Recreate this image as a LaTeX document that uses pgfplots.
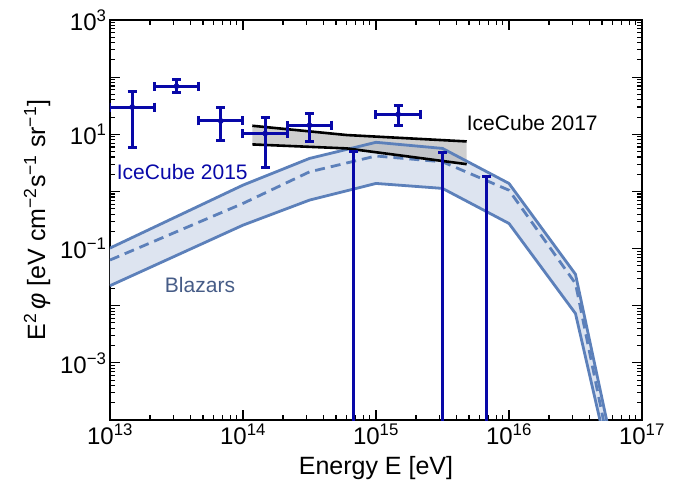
\documentclass[border=0pt]{standalone}
\usepackage{fontspec}
\setmainfont{Liberation Sans}
\usepackage{pgfplots}
\pgfplotsset{compat=1.18}
\usepgfplotslibrary{fillbetween}
\definecolor{icblue}{RGB}{8,8,168}
\definecolor{blzline}{RGB}{92,128,186}
\definecolor{blzfill}{RGB}{221,228,240}
\definecolor{icgray}{RGB}{175,175,175}
\definecolor{blztext}{RGB}{70,92,135}
\begin{document}
\begin{tikzpicture}
\begin{axis}[
  at={(0pt,0pt)}, anchor=south west,
  scale only axis, width=532pt, height=400pt,
  xmode=log, ymode=log,
  xmin=1e13, xmax=1e17, ymin=1e-4, ymax=1e3,
  xtick={1e13,1e14,1e15,1e16,1e17},
  xticklabels={10\textsuperscript{13},10\textsuperscript{14},10\textsuperscript{15},10\textsuperscript{16},10\textsuperscript{17}},
  ytick={1e-4,1e-3,1e-2,1e-1,1,1e1,1e2,1e3},
  yticklabels={,10\textsuperscript{−3},,10\textsuperscript{−1},,10\textsuperscript{1},,10\textsuperscript{3}},
  log identify minor tick positions=true,
  tick align=inside,
  major tick length=10pt, minor tick length=5pt,
  every tick/.style={black, line width=1.1pt},
  axis line style={line width=1.6pt},
  tick label style={font=\fontsize{24}{26}\selectfont},
  label style={font=\fontsize{25}{28}\selectfont},
  xlabel={Energy E [eV]},
  ylabel={E\textsuperscript{2}\,\textit{φ} [eV cm\textsuperscript{−2}s\textsuperscript{−1} sr\textsuperscript{−1}]},
  xlabel style={yshift=-5pt},
  ylabel style={yshift=3pt},
]
% Blazar band
\addplot[name path=bu, blzline, line width=2.8pt, line join=round] coordinates {
 (1e13,0.102) (1e14,1.29) (3.162e14,3.78) (1e15,7.24) (3.162e15,5.66) (1e16,1.38) (3.162e16,0.0355) (1e17,1.26e-7)};
\addplot[name path=bl, blzline, line width=2.8pt, line join=round] coordinates {
 (1e13,0.0224) (1e14,0.257) (3.162e14,0.705) (1e15,1.38) (3.162e15,1.13) (1e16,0.275) (3.162e16,0.0073) (1e17,6.3e-8)};
\addplot[blzfill] fill between[of=bu and bl];
\addplot[blzline, line width=2.8pt, dash pattern=on 10pt off 6pt] coordinates {
 (1e13,0.063) (1e14,0.617) (3.162e14,2.20) (1e15,4.17) (3.162e15,3.30) (1e16,1.05) (3.162e16,0.0245) (1e17,5e-8)};
% IceCube 2017 band
\addplot[name path=iu, black, line width=2.6pt] coordinates {
 (1.175e14,14.1) (6.03e14,9.7) (4.81e15,7.5)};
\addplot[name path=il, black, line width=2.6pt] coordinates {
 (1.175e14,6.65) (6.03e14,5.66) (4.81e15,3.0)};
\addplot[icgray, opacity=0.6] fill between[of=iu and il];
% IceCube 2015 data
\addplot[icblue, only marks, mark=*, mark size=2.6pt,
  error bars/.cd, x dir=both, x explicit, y dir=both, y explicit,
  error bar style={line width=3pt},
  error mark options={icblue, rotate=90, line width=3pt, mark size=4.5pt}] coordinates {
 (1.468e13,30) += (0.686e13,25) -= (0.468e13,24.2)
 (3.162e13,69.5) += (1.480e13,22.5) -= (1.008e13,16.5)
 (6.813e13,17.1) += (3.187e13,12.3) -= (2.171e13,9.25)
 (1.468e14,10.3) += (0.686e14,9.3) -= (0.468e14,7.63)
 (3.162e14,14.4) += (1.480e14,8.7) -= (1.008e14,6.8)
 (1.468e15,22.4) += (0.686e15,9.9) -= (0.468e15,8.0)
};
\addplot[icblue, line width=2.8pt] coordinates {(6.81e14,1e-5) (6.81e14,4.9)};
\addplot[icblue, line width=2.8pt] coordinates {(3.162e15,1e-5) (3.162e15,4.8)};
\addplot[icblue, line width=2.8pt] coordinates {(6.81e15,1e-5) (6.81e15,1.8)};
\addplot[icblue, only marks, mark=-, mark size=4.5pt, mark options={line width=3pt}] coordinates {(6.81e14,4.9) (3.162e15,4.8) (6.81e15,1.8)};
% labels
\node[anchor=west, inner sep=0pt, text=icblue, font=\fontsize{21}{24}\selectfont] at (rel axis cs:0.0126,0.621) {IceCube 2015};
\node[anchor=west, inner sep=0pt, text=black, font=\fontsize{21}{24}\selectfont] at (rel axis cs:0.6705,0.742) {IceCube 2017};
\node[anchor=west, inner sep=0pt, text=blztext, font=\fontsize{21}{24}\selectfont] at (rel axis cs:0.103,0.3375) {Blazars};
\end{axis}
\pgfresetboundingbox
\path[use as bounding box] (-110pt,-71pt) rectangle (563pt,420pt);
\end{tikzpicture}
\end{document}
